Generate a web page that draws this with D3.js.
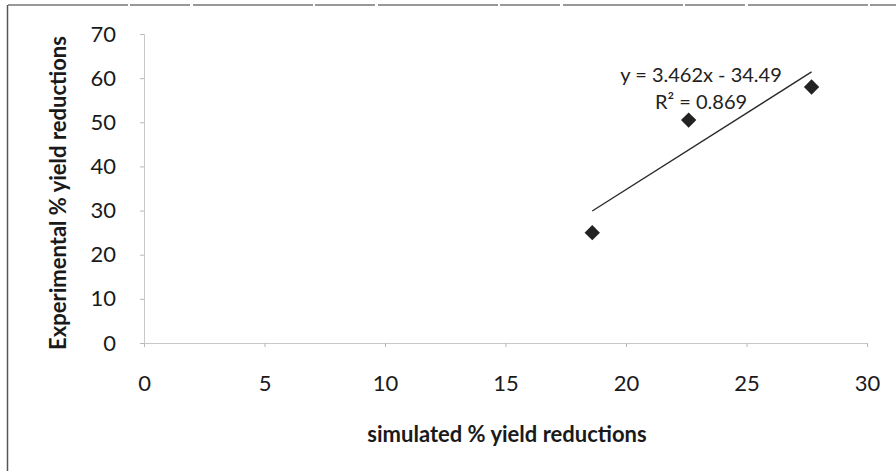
<!DOCTYPE html>
<html>
<head>
<meta charset="utf-8">
<script src="https://cdn.jsdelivr.net/npm/d3@7"></script>
<style>
  body { margin: 0; background: #fff; }
  svg { display: block; }
</style>
</head>
<body>
<div id="chart"></div>
<script>
// Experimental vs simulated % yield reductions, with linear trend

const simulated = [18.6, 22.6, 27.7];
const experimental = [25, 50.5, 58];
const xTicks = [0, 5, 10, 15, 20, 25, 30];
const yTicks = [0, 10, 20, 30, 40, 50, 60, 70];
const slope = 3.462, intercept = -34.49;
const eqLines = ["y = 3.462x - 34.49", "R\u00B2 = 0.869"];

const width = 896, height = 471;
const font = "Lato, 'Open Sans', sans-serif";

const svg = d3.select("#chart")
  .append("svg")
  .attr("width", width)
  .attr("height", height);

// scanned frame (top + left edges)
svg.append("line")
  .attr("x1", 8).attr("x2", width).attr("y1", 5).attr("y2", 5)
  .attr("stroke", "#777").attr("stroke-width", 1.5)
  .attr("stroke-dasharray", "120 2 60 3");
svg.append("line")
  .attr("x1", 7.5).attr("x2", 7.5).attr("y1", 5).attr("y2", height)
  .attr("stroke", "#555").attr("stroke-width", 1.5);

const x = d3.scaleLinear().domain([0, 30]).range([144, 867]);
const y = d3.scaleLinear().domain([0, 70]).range([343, 34]);

// axes
const xAxis = svg.append("g")
  .attr("transform", `translate(0,${y(0)})`)
  .call(d3.axisBottom(x).tickValues(xTicks).tickSize(4).tickPadding(28));
const yAxis = svg.append("g")
  .attr("transform", `translate(${x(0)},0)`)
  .call(d3.axisLeft(y).tickValues(yTicks).tickSize(4).tickPadding(24));

for (let g of [xAxis, yAxis]) {
  g.select(".domain").attr("stroke", "#c8c8c8");
  g.selectAll(".tick line").attr("stroke", "#b8b8b8");
  g.selectAll(".tick text")
    .attr("fill", "#1a1a1a")
    .style("font-family", font)
    .style("font-size", "22px");
}

// trend line
const xr = d3.extent(simulated);
svg.append("line")
  .attr("x1", x(xr[0])).attr("y1", y(slope * xr[0] + intercept))
  .attr("x2", x(xr[1])).attr("y2", y(slope * xr[1] + intercept))
  .attr("stroke", "#2a2a2a").attr("stroke-width", 1.4);

// points
svg.append("g")
  .selectAll("path")
  .data(simulated.map((s, i) => [s, experimental[i]]))
  .join("path")
  .attr("transform", d => `translate(${x(d[0])},${y(d[1])})`)
  .attr("d", d3.symbol(d3.symbolDiamond2, 150))
  .attr("fill", "#222");

// equation label
svg.append("text")
  .attr("text-anchor", "middle")
  .style("font-family", font)
  .style("font-size", "20px")
  .attr("fill", "#222")
  .selectAll("tspan")
  .data(eqLines)
  .join("tspan")
  .attr("x", 701)
  .attr("y", (d, i) => 82 + i * 27)
  .text(d => d);

// axis titles
svg.append("text")
  .attr("x", 507).attr("y", 442)
  .attr("text-anchor", "middle")
  .style("font-family", font)
  .style("font-size", "22px")
  .style("font-weight", "bold")
  .attr("fill", "#1a1a1a")
  .text("simulated % yield reductions");

svg.append("text")
  .attr("transform", "translate(66,193) rotate(-90)")
  .attr("text-anchor", "middle")
  .style("font-family", font)
  .style("font-size", "22px")
  .style("font-weight", "bold")
  .attr("fill", "#1a1a1a")
  .text("Experimental % yield reductions");
</script>
</body>
</html>
